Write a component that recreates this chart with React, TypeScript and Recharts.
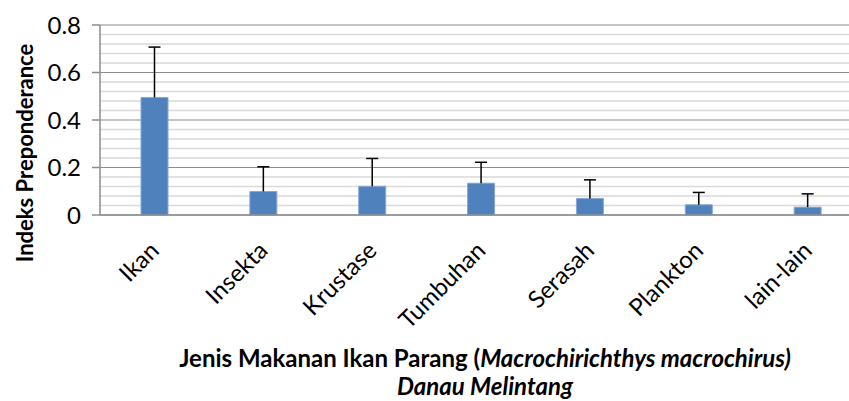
import { BarChart, Bar, XAxis, YAxis, CartesianGrid, Label } from 'recharts'

// Jenis makanan (categories) and Indeks Preponderance
const categories = ['Ikan', 'Insekta', 'Krustase', 'Tumbuhan', 'Serasah', 'Plankton', 'lain-lain']
const preponderance = [0.495, 0.099, 0.121, 0.134, 0.07, 0.043, 0.033]
const errorPlus = [0.212, 0.104, 0.117, 0.088, 0.078, 0.052, 0.056]

const yDomain = [0, 0.8]
const majorTicks = [0, 0.2, 0.4, 0.6, 0.8]
const minorTicks = [0, 0.04, 0.08, 0.12, 0.16, 0.2, 0.24, 0.28, 0.32, 0.36, 0.4, 0.44, 0.48, 0.52, 0.56, 0.6, 0.64, 0.68, 0.72, 0.76, 0.8]

const data = categories.map((name, i) => ({
  name,
  value: preponderance[i],
  err: errorPlus[i],
}))

const FONT = "Lato, 'Open Sans', sans-serif"

// gridlines every 0.04: axis scale if usable, else the plot offset
// eslint-disable-next-line @typescript-eslint/no-explicit-any
const gridLines = ({ yAxis, offset }: any) => {
  const s = yAxis?.scale
  return minorTicks.map((t) => {
    let v: unknown
    try {
      v = typeof s === 'function' ? s(t) : s?.map?.(t)
    } catch {
      v = undefined
    }
    if (typeof v === 'number' && Number.isFinite(v)) return v
    return offset.top + offset.height * (1 - (t - yDomain[0]) / (yDomain[1] - yDomain[0]))
  })
}

// one grid: dark line on the major values, light on the rest
// eslint-disable-next-line @typescript-eslint/no-explicit-any
function GridLine({ x1, x2, y1, y2, index }: any) {
  const isMajor = majorTicks.includes(minorTicks[index])
  return (
    <line
      x1={x1}
      x2={x2}
      y1={y1}
      y2={y2}
      stroke={isMajor ? '#8c8c8c' : '#d9d9d9'}
      strokeWidth={isMajor ? 1.2 : 1.5}
    />
  )
}

// error bar drawn on top of the value bar (stacked, so it uses the chart's scale)
// eslint-disable-next-line @typescript-eslint/no-explicit-any
function ErrorShape({ x, y, width, height }: any) {
  const cx = x + width / 2
  return (
    <g>
      <line x1={cx} x2={cx} y1={y} y2={y + height} stroke="#000" strokeWidth={1.5} />
      <line x1={cx - 6} x2={cx + 6} y1={y} y2={y} stroke="#000" strokeWidth={1.5} />
    </g>
  )
}

// eslint-disable-next-line @typescript-eslint/no-explicit-any
function CategoryTick({ x, y, payload }: any) {
  const ax = x + 6
  const ay = y + 37
  return (
    <text
      x={ax}
      y={ay}
      transform={`rotate(-45, ${ax}, ${ay})`}
      textAnchor="end"
      fontSize={24}
      fontFamily={FONT}
      fill="#000"
    >
      {payload.value}
    </text>
  )
}

// eslint-disable-next-line @typescript-eslint/no-explicit-any
function YTitle({ viewBox }: any) {
  const x = viewBox.x + 24
  const y = viewBox.y + viewBox.height / 2 + 33
  return (
    <text
      x={x}
      y={y}
      transform={`rotate(-90, ${x}, ${y})`}
      textAnchor="middle"
      dominantBaseline="central"
      fontSize={22}
      fontWeight="bold"
      fontFamily={FONT}
      fill="#000"
    >
      Indeks Preponderance
    </text>
  )
}

// eslint-disable-next-line @typescript-eslint/no-explicit-any
function XTitle({ viewBox }: any) {
  const cx = viewBox.x + viewBox.width / 2 + 4
  return (
    <g fontFamily={FONT} fontSize={24} fontWeight="bold" fill="#000">
      <text x={cx} y={viewBox.y + 152} textAnchor="middle">
        Jenis Makanan Ikan Parang (<tspan fontStyle="italic">Macrochirichthys macrochirus)</tspan>
      </text>
      <text x={cx} y={viewBox.y + 180} textAnchor="middle" fontStyle="italic">
        Danau Melintang
      </text>
    </g>
  )
}

export default function App() {
  return (
    <div style={{ width: 849, height: 401, overflow: 'hidden', background: '#fff' }}>
      <style>{'body{margin:0}'}</style>
      <BarChart
        width={862}
        height={401}
        data={data}
        margin={{ top: 25, right: 0, left: 0, bottom: 0 }}
        barSize={27}
      >
        <CartesianGrid
          vertical={false}
          horizontal={(p: any) => <GridLine {...p} />}
          horizontalCoordinatesGenerator={gridLines}
        />
        <XAxis
          dataKey="name"
          height={186}
          interval={0}
          tickLine={false}
          tickSize={0}
          tickMargin={0}
          axisLine={{ stroke: '#8c8c8c', strokeWidth: 1.5 }}
          tick={<CategoryTick />}
        >
          <Label content={XTitle} />
        </XAxis>
        <YAxis
          width={100}
          domain={yDomain}
          ticks={majorTicks}
          interval={0}
          tickFormatter={(v: number) => String(v)}
          tickSize={8}
          tickMargin={11}
          tickLine={{ stroke: '#8c8c8c', strokeWidth: 1.5 }}
          axisLine={{ stroke: '#8c8c8c', strokeWidth: 1.5 }}
          tick={{ fill: '#000', fontSize: 24, fontFamily: FONT }}
        >
          <Label content={YTitle} />
        </YAxis>
        <Bar
          dataKey="value"
          stackId="a"
          fill="#4f81bd"
          stroke="#86a8d4"
          strokeWidth={1}
          isAnimationActive={false}
        />
        <Bar
          dataKey="err"
          stackId="a"
          fill="none"
          shape={<ErrorShape />}
          isAnimationActive={false}
        />
      </BarChart>
    </div>
  )
}
